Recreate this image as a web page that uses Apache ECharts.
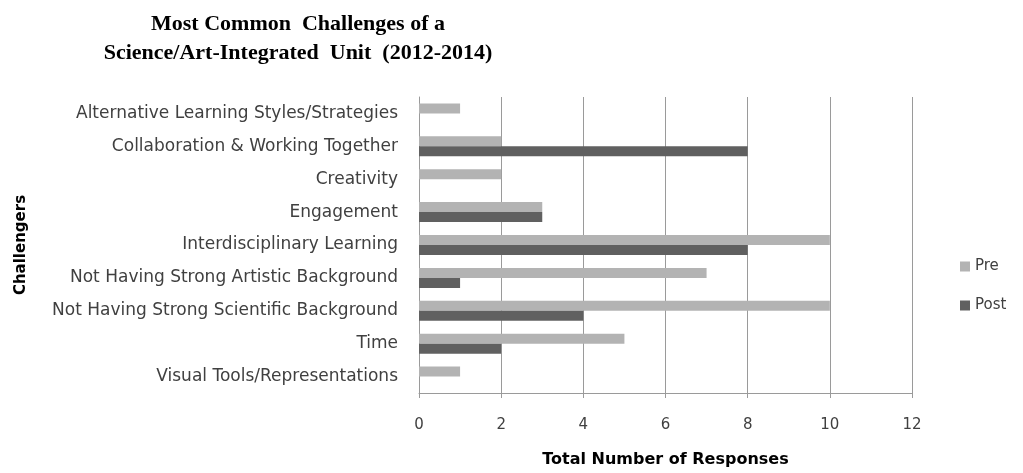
<!DOCTYPE html>
<html>
<head>
<meta charset="utf-8">
<script src="https://cdn.jsdelivr.net/npm/echarts@6/dist/echarts.min.js"></script>
<style>
  html, body { margin: 0; padding: 0; background: #ffffff; }
  #chart { width: 1023px; height: 473px; }
</style>
</head>
<body>
<div id="chart"></div>
<script>
// Challenge categories, listed top to bottom
const categories = [
  'Alternative Learning Styles/Strategies',
  'Collaboration & Working Together',
  'Creativity',
  'Engagement',
  'Interdisciplinary Learning',
  'Not Having Strong Artistic Background',
  'Not Having Strong Scientific Background',
  'Time',
  'Visual Tools/Representations'
];
// Number of responses per challenge
const preValues  = [1, 2, 2, 3, 10, 7, 10, 5, 1];
const postValues = [0, 8, 0, 3, 8, 1, 4, 2, 0];
const xTicks = { min: 0, max: 12, interval: 2 };

const labelFont = 'DejaVu Sans';
const chart = echarts.init(document.getElementById('chart'));
chart.setOption({
  animation: false,
  backgroundColor: '#ffffff',
  title: {
    text: 'Most Common  Challenges of a\nScience/Art-Integrated  Unit  (2012-2014)',
    left: 293,
    top: 5,
    textAlign: 'center',
    textStyle: {
      fontFamily: 'Liberation Serif',
      fontWeight: 'bold',
      fontSize: 22,
      lineHeight: 29,
      color: '#000000'
    }
  },
  legend: {
    orient: 'vertical',
    left: 960,
    top: 259,
    padding: 0,
    itemWidth: 10,
    itemHeight: 10,
    itemGap: 24,
    icon: 'rect',
    textStyle: { fontFamily: labelFont, fontSize: 15, color: '#404040' },
    data: ['Pre', 'Post']
  },
  grid: { left: 419, right: 111, top: 97, bottom: 76, containLabel: false },
  xAxis: {
    type: 'value',
    min: xTicks.min,
    max: xTicks.max,
    interval: xTicks.interval,
    name: 'Total Number of Responses',
    nameLocation: 'middle',
    nameGap: 59,
    nameTextStyle: { fontFamily: labelFont, fontWeight: 'bold', fontSize: 16, color: '#000000' },
    axisLine: { show: true, lineStyle: { color: '#9a9a9a', width: 1 } },
    axisTick: { show: true, length: 5, lineStyle: { color: '#9a9a9a' } },
    axisLabel: { fontFamily: labelFont, fontSize: 15, color: '#404040', margin: 25 },
    splitLine: { show: true, lineStyle: { color: '#9a9a9a', width: 1 } }
  },
  yAxis: {
    type: 'category',
    inverse: true,
    data: categories,
    name: 'Challengers',
    nameLocation: 'middle',
    nameGap: 390,
    nameRotate: 90,
    nameTextStyle: { fontFamily: labelFont, fontWeight: 'bold', fontSize: 15, color: '#000000' },
    axisLine: { show: true, lineStyle: { color: '#9a9a9a', width: 1 } },
    axisTick: { show: false },
    axisLabel: { fontFamily: labelFont, fontSize: 17, color: '#404040', margin: 21 },
    splitLine: { show: false }
  },
  series: [
    {
      name: 'Pre',
      type: 'bar',
      data: preValues,
      barWidth: 10,
      barGap: '0%',
      itemStyle: { color: '#b3b3b3' }
    },
    {
      name: 'Post',
      type: 'bar',
      data: postValues,
      barWidth: 10,
      barGap: '0%',
      itemStyle: { color: '#606060' }
    }
  ]
});
</script>
</body>
</html>
